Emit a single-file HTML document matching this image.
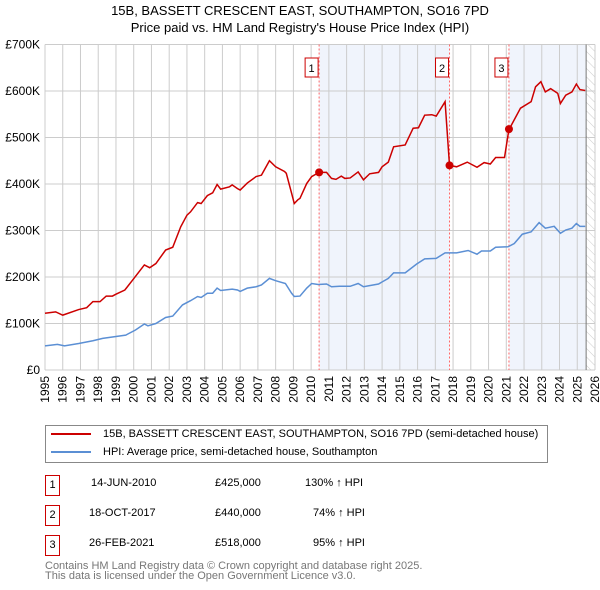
<!DOCTYPE html>
<html><head><meta charset="utf-8"><style>
body{margin:0;background:#fff;font-family:"Liberation Sans","DejaVu Sans",sans-serif;}
#wrap{position:relative;width:600px;height:590px;overflow:hidden;}
.tbl{position:absolute;font-size:11px;color:#000;}
.nb{position:absolute;width:13px;height:19px;border:1px solid #c00;text-align:center;line-height:19px;font-size:11px;background:#fff}
</style></head><body>
<div id="wrap">
<svg id="chart" width="600" height="420" style="position:absolute;left:0;top:0"></svg>
<div style="position:absolute;left:45px;top:425px;width:501px;height:36px;border:1px solid #888;font-size:11px;">
 <div style="position:absolute;left:5px;top:2px;white-space:nowrap"><span style="display:inline-block;width:40px;height:2px;background:#c00;vertical-align:middle;margin-right:12px"></span>15B, BASSETT CRESCENT EAST, SOUTHAMPTON, SO16 7PD (semi-detached house)</div>
 <div style="position:absolute;left:5px;top:20px;white-space:nowrap"><span style="display:inline-block;width:40px;height:2px;background:#5b8fd4;vertical-align:middle;margin-right:12px"></span>HPI: Average price, semi-detached house, Southampton</div>
</div>
<div>
 <div class="nb" style="left:45px;top:475px">1</div>
 <div class="tbl" style="left:91px;top:477px">14-JUN-2010</div><div class="tbl" style="left:215px;top:477px">£425,000</div><div class="tbl" style="left:305px;top:477px">130% ↑ HPI</div>
 <div class="nb" style="left:45px;top:505px">2</div>
 <div class="tbl" style="left:89px;top:507px">18-OCT-2017</div><div class="tbl" style="left:215px;top:507px">£440,000</div><div class="tbl" style="left:313px;top:507px">74% ↑ HPI</div>
 <div class="nb" style="left:45px;top:535px">3</div>
 <div class="tbl" style="left:89px;top:537px">26-FEB-2021</div><div class="tbl" style="left:215px;top:537px">£518,000</div><div class="tbl" style="left:313px;top:537px">95% ↑ HPI</div>
</div>
<div style="position:absolute;left:45px;top:561px;font-size:11px;color:#777;line-height:10px">Contains HM Land Registry data © Crown copyright and database right 2025.<br>This data is licensed under the Open Government Licence v3.0.</div>
</div>
<script>
const yTicks=[0,100,200,300,400,500,600,700];
const yTickLabels=["£0","£100K","£200K","£300K","£400K","£500K","£600K","£700K"];
const xYears=[1995,1996,1997,1998,1999,2000,2001,2002,2003,2004,2005,2006,2007,2008,2009,2010,2011,2012,2013,2014,2015,2016,2017,2018,2019,2020,2021,2022,2023,2024,2025,2026];
const redT=[1995,1995.6,1996,1996.9,1997.35,1997.7,1998.1,1998.45,1998.8,1999,1999.5,1999.95,2000.6,2000.9,2001.25,2001.8,2002.2,2002.65,2003,2003.2,2003.6,2003.8,2004.15,2004.45,2004.7,2004.9,2005.4,2005.55,2005.85,2006,2006.4,2006.9,2007.2,2007.65,2008,2008.5,2008.6,2008.9,2009.05,2009.25,2009.37,2009.75,2010.03,2010.45,2010.87,2011.15,2011.4,2011.7,2011.9,2012.2,2012.65,2012.95,2013.3,2013.8,2014,2014.35,2014.65,2015.3,2015.75,2016.05,2016.4,2016.8,2017.05,2017.55,2017.8,2018.2,2018.8,2019.35,2019.75,2020.1,2020.4,2020.9,2021.15,2021.25,2021.8,2022.4,2022.65,2022.95,2023.2,2023.5,2023.9,2024.05,2024.35,2024.7,2024.95,2025.15,2025.45];
const redV=[122,125,118,130,134,147,147,159,159,163,172,194,226,220,229,258,264,308,333,340,360,358,375,381,399,389,394,398,390,387,402,416,419,450,437,427,423,380,358,366,369,401,416,425,425,412,410,417,412,413,426,409,422,425,437,447,480,484,520,521,548,549,546,577,440,437,447,436,446,443,457,457,518,524,563,577,609,620,598,605,595,573,591,598,615,603,601];
const blueT=[1995,1995.7,1996.1,1996.9,1997.7,1998.25,1999,1999.55,2000.1,2000.6,2000.8,2001.25,2001.8,2002.2,2002.75,2003.2,2003.6,2003.8,2004.15,2004.45,2004.7,2004.9,2005.55,2005.85,2006,2006.4,2006.9,2007.2,2007.65,2008,2008.55,2008.9,2009.05,2009.37,2009.75,2010.03,2010.4,2010.87,2011.15,2011.6,2012.2,2012.65,2012.95,2013.8,2014.35,2014.65,2015.3,2015.95,2016.4,2017.05,2017.55,2018.2,2018.85,2019.35,2019.6,2020.1,2020.4,2021.1,2021.45,2021.9,2022.4,2022.85,2023.2,2023.7,2024.05,2024.35,2024.7,2024.95,2025.15,2025.45];
const blueV=[52,55,52,57,63,68,72,75,86,99,95,100,113,116,140,149,158,156,165,165,176,171,174,172,169,176,179,183,197,192,186,165,158,159,176,186,184,185,179,180,180,186,179,185,197,209,209,228,239,240,252,252,257,249,256,256,264,265,272,292,297,317,305,309,294,301,305,315,309,309];
const saleT=[2010.45,2017.8,2021.15];
const saleV=[425,440,518];
const saleLabels=["1","2","3"];
const dataEnd=2025.5;

const X0=45,X1=595,Y0=370,Y1=44.5;
const x=t=>X0+(t-1995)/(2026-1995)*(X1-X0);
const y=v=>Y0-v/700*(Y0-Y1);
const NS="http://www.w3.org/2000/svg";
const svg=document.getElementById('chart');
function mk(tag,attrs,parent){const e=document.createElementNS(NS,tag);for(const k in attrs)e.setAttribute(k,attrs[k]);(parent||svg).appendChild(e);return e;}
const defs=mk('defs',{});
const pat=mk('pattern',{id:'hatch',width:6,height:6,patternUnits:'userSpaceOnUse',patternTransform:'rotate(-45)'},defs);
mk('line',{x1:0,y1:0,x2:0,y2:6,stroke:'#ccc','stroke-width':1},pat);
let r=mk('rect',{x:x(saleT[0]),y:Y1,width:x(saleT[1])-x(saleT[0]),height:Y0-Y1,fill:'#f0f4fc'});

r=mk('rect',{x:x(saleT[2]),y:Y1,width:x(dataEnd)-x(saleT[2]),height:Y0-Y1,fill:'#f0f4fc'});

r=mk('rect',{x:x(dataEnd),y:Y1,width:X1-x(dataEnd),height:Y0-Y1,fill:'url(#hatch)'});

xYears.forEach(t=>{const l=mk('line',{x1:x(t),x2:x(t),y1:Y1,y2:Y0,stroke:'#ccc','stroke-width':1});

const tx=mk('text',{x:0,y:0,'font-size':12,'text-anchor':'end',transform:`translate(${x(t)+4},${Y0+6}) rotate(-90)`,fill:'#000'});tx.textContent=t;
});
yTicks.forEach((v,i)=>{const l=mk('line',{x1:X0,x2:X1,y1:y(v),y2:y(v),stroke:'#ccc','stroke-width':1});

const tx=mk('text',{x:40,y:y(v)+4,'font-size':12,'text-anchor':'end',fill:'#000'});tx.textContent=yTickLabels[i];
});
let el=mk('line',{x1:x(dataEnd),x2:x(dataEnd),y1:Y1,y2:Y0,stroke:'#777','stroke-width':1});

saleT.forEach((t,i)=>{const l=mk('line',{x1:x(t),x2:x(t),y1:Y1,y2:Y0,stroke:'#f66','stroke-width':1,'stroke-dasharray':'2,2'});

const b=mk('rect',{x:x(t)-14,y:58,width:13,height:19,fill:'#fff',stroke:'#c00'});

const tx=mk('text',{x:x(t)-7.5,y:72,'font-size':11,'text-anchor':'middle'});tx.textContent=saleLabels[i];
});
el=mk('polyline',{points:blueT.map((t,i)=>x(t)+','+y(blueV[i])).join(' '),fill:'none',stroke:'#5b8fd4','stroke-width':1.5});

el=mk('polyline',{points:redT.map((t,i)=>x(t)+','+y(redV[i])).join(' '),fill:'none',stroke:'#cc0000','stroke-width':1.5});

saleT.forEach((t,i)=>{const c=mk('circle',{cx:x(t),cy:y(saleV[i]),r:4,fill:'#cc0000'});
});
let t1=mk('text',{x:300,y:15,'font-size':13,'text-anchor':'middle'});t1.textContent='15B, BASSETT CRESCENT EAST, SOUTHAMPTON, SO16 7PD';

let t2=mk('text',{x:300,y:32,'font-size':13,'text-anchor':'middle'});t2.textContent="Price paid vs. HM Land Registry's House Price Index (HPI)";

</script>
</body></html>
